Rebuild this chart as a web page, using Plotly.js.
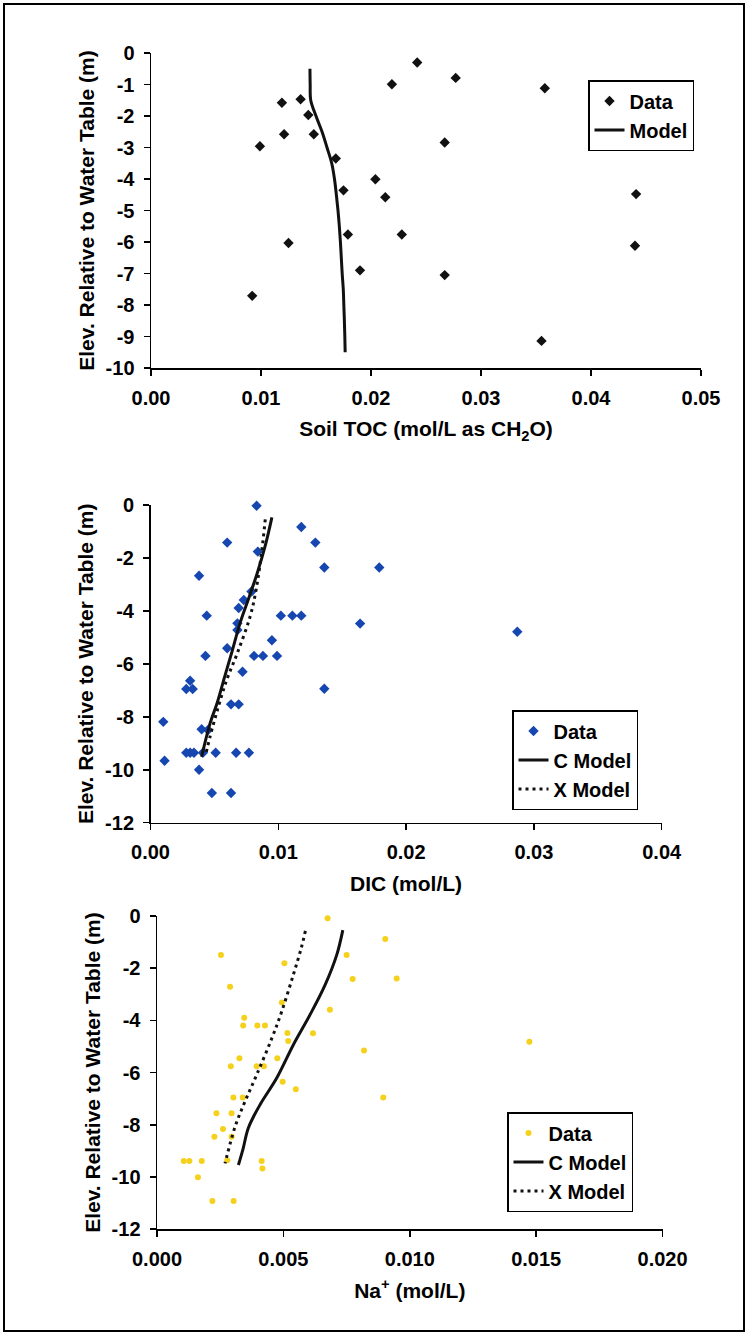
<!DOCTYPE html>
<html><head><meta charset="utf-8">
<script src="https://cdn.plot.ly/plotly-3.0.1.min.js"></script>
<style>html,body{margin:0;padding:0;background:#fff}#chart{width:747px;height:1335px}</style>
</head><body><div id="chart"></div>
<script>
// ---- Panel 1: Soil TOC ----
const tocDataX = [0.0242,0.0219,0.0277,0.0358,0.0119,0.0136,0.0143,0.0121,0.0148,0.0267,0.0099,0.0168,0.0204,0.0175,0.0213,0.0441,0.0179,0.0228,0.0125,0.0440,0.0190,0.0267,0.0092,0.0355];
const tocDataY = [-0.30,-0.99,-0.79,-1.12,-1.58,-1.47,-1.97,-2.58,-2.58,-2.84,-2.96,-3.35,-4.01,-4.36,-4.58,-4.48,-5.76,-5.76,-6.03,-6.12,-6.90,-7.05,-7.71,-9.14];
const tocModelY = [-0.5,-1.0,-1.5,-2.0,-2.5,-3.0,-3.5,-4.0,-4.5,-5.0,-5.5,-6.0,-6.5,-7.0,-7.5,-8.0,-8.5,-9.0,-9.5];
const tocModelX = [0.01445,0.01447,0.01452,0.0150,0.01555,0.0160,0.01643,0.01668,0.01685,0.0170,0.01712,0.01722,0.0173,0.01738,0.01748,0.01753,0.01758,0.01762,0.01765];
const tocXTicks = [0,0.01,0.02,0.03,0.04,0.05];
const tocXTickText = ['0.00','0.01','0.02','0.03','0.04','0.05'];
const tocYTicks = [0,-1,-2,-3,-4,-5,-6,-7,-8,-9,-10];
const tocYTickText = ['0','-1','-2','-3','-4','-5','-6','-7','-8','-9','-10'];

// ---- Panel 2: DIC ----
const dicDataX = [0.0083,0.0118,0.0129,0.0060,0.0084,0.0136,0.0179,0.0038,0.0079,0.0073,0.0069,0.0044,0.0102,0.0111,0.0118,0.0068,0.0068,0.0164,0.0095,0.0060,0.0043,0.0081,0.0088,0.0099,0.0072,0.0031,0.0028,0.0033,0.0136,0.0063,0.0069,0.0010,0.0040,0.0045,0.0028,0.0031,0.0034,0.0041,0.0051,0.0067,0.0077,0.0011,0.0038,0.0048,0.0063,0.0287];
const dicDataY = [-0.03,-0.83,-1.42,-1.42,-1.76,-2.36,-2.36,-2.67,-3.27,-3.59,-3.89,-4.18,-4.18,-4.18,-4.18,-4.47,-4.72,-4.48,-5.11,-5.41,-5.70,-5.70,-5.70,-5.70,-6.30,-6.64,-6.95,-6.95,-6.94,-7.53,-7.53,-8.19,-8.47,-8.50,-9.36,-9.36,-9.36,-9.36,-9.36,-9.36,-9.36,-9.66,-10.0,-10.88,-10.88,-4.79];
const dicCModelY = [-0.47,-1.5,-2.58,-3.5,-4.47,-5.5,-6.49,-7.5,-8.25,-9.51];
const dicCModelX = [0.00950,0.0090,0.00835,0.0077,0.0070,0.0064,0.00580,0.0052,0.00466,0.0040];
const dicXModelY = [-0.54,-1.76,-3.21,-4.22,-5.60,-6.61,-7.62,-8.75,-9.38];
const dicXModelX = [0.00898,0.0087,0.00826,0.00779,0.00679,0.00596,0.00531,0.00466,0.00434];
const dicXTicks = [0,0.01,0.02,0.03,0.04];
const dicXTickText = ['0.00','0.01','0.02','0.03','0.04'];
const elevTicks = [0,-2,-4,-6,-8,-10,-12];
const elevTickText = ['0','-2','-4','-6','-8','-10','-12'];

// ---- Panel 3: Na+ ----
const naDataX = [0.00675,0.00903,0.00253,0.0075,0.00504,0.00948,0.00774,0.00289,0.00494,0.00684,0.00345,0.00341,0.00397,0.00427,0.00516,0.00617,0.00519,0.00819,0.00326,0.00476,0.00292,0.00394,0.00423,0.00497,0.00549,0.00302,0.00339,0.00895,0.00235,0.00295,0.00261,0.00227,0.00295,0.00106,0.00128,0.00177,0.00278,0.00414,0.00417,0.00162,0.00219,0.00303,0.01473];
const naDataY = [-0.09,-0.88,-1.49,-1.49,-1.81,-2.39,-2.41,-2.71,-3.31,-3.59,-3.90,-4.20,-4.20,-4.20,-4.48,-4.49,-4.79,-5.15,-5.45,-5.45,-5.76,-5.76,-5.76,-6.35,-6.64,-6.95,-6.95,-6.95,-7.56,-7.56,-8.16,-8.46,-8.46,-9.39,-9.39,-9.39,-9.36,-9.39,-9.67,-10.01,-10.92,-10.92,-4.82];
const naCModelY = [-0.54,-1.49,-2.64,-3.79,-4.94,-6.22,-7.24,-8.13,-8.90,-9.54];
const naCModelX = [0.00735,0.00711,0.00665,0.00605,0.00539,0.00473,0.00407,0.00361,0.00341,0.00322];
const naXModelY = [-0.57,-1.18,-2.26,-3.67,-4.69,-6.09,-7.11,-8.07,-9.48];
const naXModelX = [0.00587,0.00572,0.00539,0.00493,0.00454,0.00394,0.00348,0.00309,0.00269];
const naXTicks = [0,0.005,0.01,0.015,0.02];
const naXTickText = ['0.000','0.005','0.010','0.015','0.020'];

const W = 747, H = 1335;
const FONT = 'Liberation Sans, Arial, sans-serif';
const tickFont = {family: FONT, size: 20, color: '#000', weight: 'bold'};
const titleFont = {family: FONT, size: 21, color: '#000', weight: 'bold'};
const px = v => v / W;
const py = v => 1 - v / H;

function xAxis(left, right, ticks, texts, title, range) {
  return {domain: [px(left), px(right)], range: range, tickvals: ticks, ticktext: texts,
    showgrid: false, zeroline: false, showline: true, linecolor: '#000', linewidth: 1.5,
    ticks: 'outside', ticklen: 6, tickwidth: 1.5, tickcolor: '#000', tickfont: tickFont,
    ticklabelstandoff: 5,
    title: {text: title, font: titleFont, standoff: 14}, fixedrange: true};
}
function yAxis(top, bottom, ticks, texts, range) {
  return {domain: [py(bottom), py(top)], range: range, tickvals: ticks, ticktext: texts,
    showgrid: false, zeroline: false, showline: true, linecolor: '#000', linewidth: 1.5,
    ticks: 'outside', ticklen: 6, tickwidth: 1.5, tickcolor: '#000', tickfont: tickFont,
    ticklabelstandoff: 5,
    title: {text: 'Elev. Relative to Water Table (m)', font: titleFont, standoff: 5}, fixedrange: true};
}

const traces = [
  {x: tocDataX, y: tocDataY, type: 'scatter', mode: 'markers', name: 'Data', xaxis: 'x', yaxis: 'y', legend: 'legend',
   marker: {symbol: 'diamond', size: 8, color: '#111'}, cliponaxis: false},
  {x: tocModelX, y: tocModelY, type: 'scatter', mode: 'lines', name: 'Model', xaxis: 'x', yaxis: 'y', legend: 'legend',
   line: {color: '#111', width: 3, shape: 'spline'}},
  {x: dicDataX, y: dicDataY, type: 'scatter', mode: 'markers', name: 'Data', xaxis: 'x2', yaxis: 'y2', legend: 'legend2',
   marker: {symbol: 'diamond', size: 8, color: '#1646b0'}, cliponaxis: false},
  {x: dicCModelX, y: dicCModelY, type: 'scatter', mode: 'lines', name: 'C Model', xaxis: 'x2', yaxis: 'y2', legend: 'legend2',
   line: {color: '#111', width: 3, shape: 'spline'}},
  {x: dicXModelX, y: dicXModelY, type: 'scatter', mode: 'lines', name: 'X Model', xaxis: 'x2', yaxis: 'y2', legend: 'legend2',
   line: {color: '#111', width: 3, dash: '3px,4px', shape: 'spline'}},
  {x: naDataX, y: naDataY, type: 'scatter', mode: 'markers', name: 'Data', xaxis: 'x3', yaxis: 'y3', legend: 'legend3',
   marker: {symbol: 'circle', size: 6, color: '#f6d11c'}, cliponaxis: false},
  {x: naCModelX, y: naCModelY, type: 'scatter', mode: 'lines', name: 'C Model', xaxis: 'x3', yaxis: 'y3', legend: 'legend3',
   line: {color: '#111', width: 3, shape: 'spline'}},
  {x: naXModelX, y: naXModelY, type: 'scatter', mode: 'lines', name: 'X Model', xaxis: 'x3', yaxis: 'y3', legend: 'legend3',
   line: {color: '#111', width: 3, dash: '3px,4px', shape: 'spline'}}
];

function legendAt(left, top) {
  return {x: px(left), y: py(top), xanchor: 'left', yanchor: 'top', bgcolor: '#fff',
    bordercolor: '#000', borderwidth: 1.5, font: {family: FONT, size: 20, color: '#000', weight: 'bold'},
    itemwidth: 30, tracegroupgap: 0};
}

const layout = {
  width: W, height: H, margin: {l: 0, r: 0, t: 0, b: 0}, paper_bgcolor: '#fff', plot_bgcolor: '#fff',
  showlegend: true,
  xaxis: Object.assign(xAxis(151, 701, tocXTicks, tocXTickText, 'Soil TOC (mol/L as CH<sub>2</sub>O)', [0, 0.05]), {anchor: 'y'}),
  yaxis: Object.assign(yAxis(53, 368, tocYTicks, tocYTickText, [-10, 0]), {anchor: 'x'}),
  xaxis2: Object.assign(xAxis(150.5, 661.7, dicXTicks, dicXTickText, 'DIC (mol/L)', [0, 0.04]), {anchor: 'y2'}),
  yaxis2: Object.assign(yAxis(505, 822.7, elevTicks, elevTickText, [-12, 0]), {anchor: 'x2'}),
  xaxis3: Object.assign(xAxis(157, 662.6, naXTicks, naXTickText, 'Na<sup>+</sup> (mol/L)', [0, 0.02]), {anchor: 'y3'}),
  yaxis3: Object.assign(yAxis(916, 1229.2, elevTicks, elevTickText, [-12, 0]), {anchor: 'x3'}),
  legend: legendAt(588, 80),
  legend2: legendAt(512, 710),
  legend3: legendAt(507, 1112),
  shapes: [{type: 'rect', xref: 'paper', yref: 'paper', x0: px(4), x1: px(744), y0: py(1331), y1: py(4),
    line: {color: '#000', width: 2}, fillcolor: 'rgba(0,0,0,0)'}]
};

Plotly.newPlot('chart', traces, layout, {staticPlot: true, displayModeBar: false});
</script>
</body></html>
